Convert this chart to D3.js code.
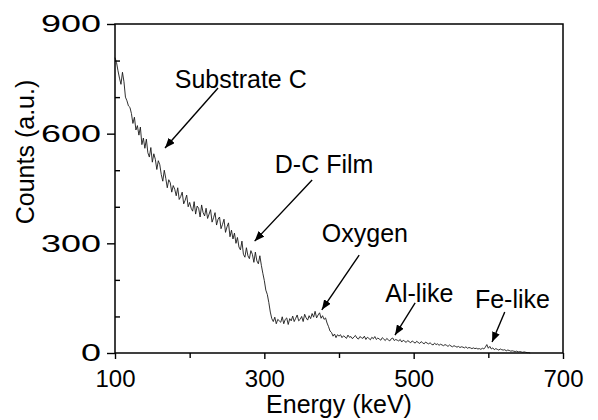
<!DOCTYPE html>
<html>
<head>
<meta charset="utf-8">
<script src="https://cdn.jsdelivr.net/npm/d3@7"></script>
<style>
  body { margin: 0; background: #fff; }
  text { font-family: "Liberation Sans", Arial, sans-serif; fill: #000; }
</style>
</head>
<body>
<svg id="chart" width="598" height="420"></svg>
<script>
// RBS-like spectrum: counts per 2 keV channel, starting at 100 keV
const energyStart = 100;
const energyStep = 2;
const counts = [
  808, 795, 772, 752, 735, 768, 742, 700, 690, 676,   // 100-118
  672, 655, 628, 645, 610, 622, 596, 618, 570, 588,   // 120-138
  560, 585, 548, 536, 562, 522, 545, 530, 502, 526,   // 140-158
  515, 488, 470, 500, 478, 452, 474, 466, 440, 458,   // 160-178
  448, 430, 452, 420, 428, 440, 408, 418, 432, 400,   // 180-198
  412, 396, 388, 414, 380, 402, 396, 372, 405, 384,   // 200-218
  375, 396, 368, 380, 392, 358, 370, 384, 350, 366,   // 220-238
  372, 340, 352, 366, 330, 345, 356, 318, 336, 312,   // 240-258
  328, 300, 316, 290, 282, 306, 270, 262, 288, 266,   // 260-278
  258, 280, 270, 248, 276, 252, 244, 266, 240, 218,   // 280-298
  198, 172, 160, 138, 112, 94, 86, 98, 80, 92,        // 300-318
  88, 84, 99, 80, 92, 96, 78, 94, 88, 101,            // 320-338
  86, 95, 104, 88, 92, 100, 86, 106, 96, 90,          // 340-358
  102, 94, 108, 98, 114, 96, 104, 110, 95, 102,       // 360-378
  92, 96, 82, 72, 60, 56, 46, 52, 42, 50,             // 380-398
  46, 50, 42, 47, 44, 40, 49, 43, 45, 39,             // 400-418
  44, 48, 41, 38, 45, 42, 40, 46, 37, 43,             // 420-438
  40, 36, 43, 39, 45, 37, 41, 38, 35, 42,             // 440-458
  38, 34, 40, 36, 33, 39, 41, 34, 37, 35,             // 460-478
  33, 37, 30, 35, 32, 29, 34, 31, 28, 33,             // 480-498
  30, 27, 32, 29, 26, 31, 28, 25, 30, 27,             // 500-518
  25, 28, 24, 22, 27, 23, 25, 21, 24, 22,             // 520-538
  20, 23, 21, 18, 22, 19, 17, 20, 18, 16,             // 540-558
  18, 15, 17, 16, 14, 17, 13, 15, 14, 12,             // 560-578
  14, 12, 13, 11, 12, 10, 13, 11, 16, 23,             // 580-598
  13, 18, 11, 14, 9, 12, 10, 8, 11, 9,                // 600-618
  8, 9, 6, 8, 7, 5, 6, 5, 4, 5,                       // 620-638
  3, 4, 3, 2, 3, 2, 1, 1, 0                           // 640-656
];

const xMajorTicks = [100, 300, 500, 700];
const xMinorTicks = [200, 400, 600];
const yMajorTicks = [0, 300, 600, 900];
const yMinorTicks = [100, 200, 400, 500, 700, 800];

// annotation labels, anchored in data space (keV, counts)
const labelNames = ["Substrate C", "D-C Film", "Oxygen", "Al-like", "Fe-like"];
const labelAt   = [[180, 725], [314, 492], [377, 304], [462, 139], [582, 123]];
const arrowFrom = [[238, 725], [364, 473], [427, 268], [502, 137], [622, 112]];
const arrowTo   = [[167, 561], [287, 306], [377, 118], [475, 49], [605, 30]];

const svg = d3.select("#chart");
const margin = { top: 24, right: 35, bottom: 67, left: 115 };
const width = 598 - margin.left - margin.right;
const height = 420 - margin.top - margin.bottom;

const x = d3.scaleLinear().domain([100, 700]).range([0, width]);
const y = d3.scaleLinear().domain([0, 900]).range([height, 0]);

const g = svg.append("g").attr("transform", `translate(${margin.left},${margin.top})`);

// arrowhead
svg.append("defs").append("marker")
    .attr("id", "head")
    .attr("markerUnits", "userSpaceOnUse")
    .attr("viewBox", "0 0 10 8")
    .attr("refX", 10).attr("refY", 4)
    .attr("markerWidth", 10).attr("markerHeight", 8)
    .attr("orient", "auto")
  .append("path")
    .attr("d", "M0,0L10,4L0,8z")
    .attr("fill", "#000");

// spectrum
const line = d3.line()
    .x((d, i) => x(energyStart + i * energyStep))
    .y(d => y(d));

g.append("path")
    .datum(counts)
    .attr("fill", "none")
    .attr("stroke", "#1a1a1a")
    .attr("stroke-width", 0.9)
    .attr("d", line);

// axes
function styleAxis(sel) {
    sel.select(".domain").remove();
    sel.selectAll("line").attr("stroke", "#000").attr("stroke-width", 1.4);
    sel.selectAll("text").style("font-size", "24px").attr("fill", "#000");
}

g.append("g")
    .attr("transform", `translate(0,${height})`)
    .call(d3.axisBottom(x).tickValues(xMajorTicks).tickSize(6).tickPadding(11).tickFormat(d3.format("d")))
    .call(styleAxis);

g.append("g")
    .attr("transform", `translate(0,${height})`)
    .call(d3.axisBottom(x).tickValues(xMinorTicks).tickSize(5).tickFormat(""))
    .call(styleAxis);

// y labels in the scan are drawn wider than the x ones
g.append("g")
    .call(d3.axisLeft(y).tickValues(yMajorTicks).tickSize(8).tickPadding(6).tickFormat(d3.format("d")))
    .call(styleAxis)
    .selectAll("text")
    .attr("textLength", d => String(d).length * 20)
    .attr("lengthAdjust", "spacingAndGlyphs");

g.append("g")
    .call(d3.axisLeft(y).tickValues(yMinorTicks).tickSize(-5).tickFormat(""))
    .call(styleAxis);

// frame
g.append("rect")
    .attr("width", width)
    .attr("height", height)
    .attr("fill", "none")
    .attr("stroke", "#000")
    .attr("stroke-width", 1.5);

// axis titles
g.append("text")
    .attr("x", 224)
    .attr("y", height + 60)
    .attr("text-anchor", "middle")
    .style("font-size", "25px")
    .text("Energy (keV)");

svg.append("text")
    .attr("transform", "translate(34,152) rotate(-90)")
    .attr("text-anchor", "middle")
    .style("font-size", "25px")
    .text("Counts (a.u.)");

// annotations
labelNames.forEach((name, i) => {
    g.append("text")
        .attr("x", x(labelAt[i][0]))
        .attr("y", y(labelAt[i][1]))
        .style("font-size", "25px")
        .text(name);

    g.append("line")
        .attr("x1", x(arrowFrom[i][0])).attr("y1", y(arrowFrom[i][1]))
        .attr("x2", x(arrowTo[i][0])).attr("y2", y(arrowTo[i][1]))
        .attr("stroke", "#000")
        .attr("stroke-width", 1.4)
        .attr("marker-end", "url(#head)");
});
</script>
</body>
</html>
